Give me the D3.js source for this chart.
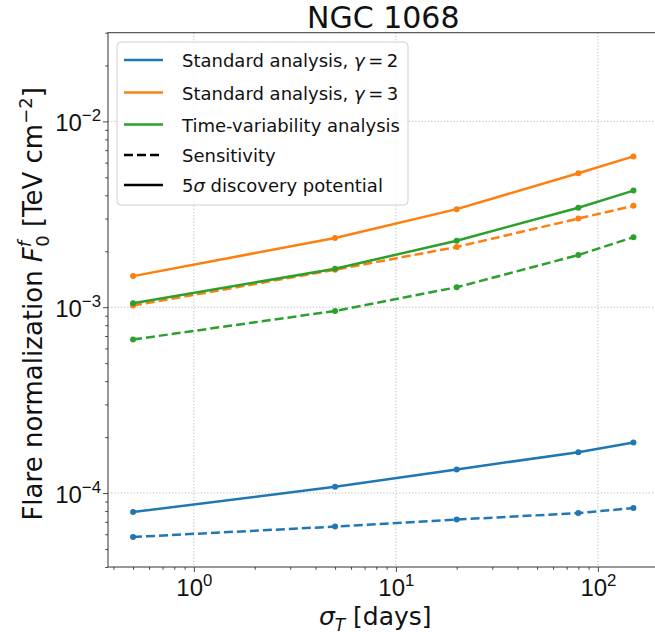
<!DOCTYPE html>
<html>
<head>
<meta charset="utf-8">
<script src="https://cdn.jsdelivr.net/npm/d3@7"></script>
<style>
  html, body { margin: 0; padding: 0; background: #fff; }
  svg { display: block; font-family: "DejaVu Sans", sans-serif; }
</style>
</head>
<body>
<svg id="chart" width="655" height="635"></svg>
<script>
// ---- data ----
const sigmaT = [0.5, 5, 20, 80, 150];
const std2Discovery = [7.9e-5, 1.08e-4, 1.34e-4, 1.66e-4, 1.87e-4];
const std2Sensitivity = [5.8e-5, 6.6e-5, 7.2e-5, 7.8e-5, 8.3e-5];
const std3Discovery = [1.47e-3, 2.36e-3, 3.37e-3, 5.26e-3, 6.48e-3];
const std3Sensitivity = [1.02e-3, 1.59e-3, 2.11e-3, 3.0e-3, 3.51e-3];
const tvDiscovery = [1.05e-3, 1.61e-3, 2.28e-3, 3.43e-3, 4.24e-3];
const tvSensitivity = [6.7e-4, 9.55e-4, 1.28e-3, 1.91e-3, 2.38e-3];
const xMajorTicks = [1, 10, 100];
const xMajorExp = ["0", "1", "2"];
const yMajorTicks = [1e-4, 1e-3, 1e-2];
const yMajorExp = ["−4", "−3", "−2"];
const legendLabels = ["Standard analysis, ", "Standard analysis, ", "Time-variability analysis", "Sensitivity", "5σ discovery potential"];

const colors = { blue: "#1f77b4", orange: "#ff7f0e", green: "#2ca02c" };

const series = [
  { values: std2Sensitivity, color: colors.blue, dashed: true },
  { values: std2Discovery, color: colors.blue, dashed: false },
  { values: std3Sensitivity, color: colors.orange, dashed: true },
  { values: std3Discovery, color: colors.orange, dashed: false },
  { values: tvSensitivity, color: colors.green, dashed: true },
  { values: tvDiscovery, color: colors.green, dashed: false }
];

// ---- layout ----
const svg = d3.select("#chart");
const pLeft = 108, pTop = 32.7, pRight = 658.5, pBottom = 567;

const x = d3.scaleLog().domain([Math.pow(10, -0.425), Math.pow(10, 2.300)]).range([pLeft, pRight]);
const y = d3.scaleLog().domain([4e-5, 3e-2]).range([pBottom, pTop]);

const g = svg.append("g");

// grid
const gridColor = "#b0b0b0";
g.selectAll(".gx").data(xMajorTicks).enter().append("line")
  .attr("x1", d => x(d)).attr("x2", d => x(d))
  .attr("y1", pTop).attr("y2", pBottom)
  .attr("stroke", gridColor).attr("stroke-width", 0.9).attr("stroke-dasharray", "1.2,2");
g.selectAll(".gy").data(yMajorTicks).enter().append("line")
  .attr("x1", pLeft).attr("x2", pRight)
  .attr("y1", d => y(d)).attr("y2", d => y(d))
  .attr("stroke", gridColor).attr("stroke-width", 0.9).attr("stroke-dasharray", "1.2,2");

// axes - minor
const xMinor = x.ticks().filter(v => !xMajorTicks.some(m => Math.abs(m / v - 1) < 1e-6));
const yMinor = y.ticks().filter(v => !yMajorTicks.some(m => Math.abs(m / v - 1) < 1e-6));

const axisColor = "#333";
const xMinorAxis = g.append("g").attr("transform", `translate(0,${pBottom})`)
  .call(d3.axisBottom(x).tickValues(xMinor).tickSize(2.8).tickFormat(""));
const yMinorAxis = g.append("g").attr("transform", `translate(${pLeft},0)`)
  .call(d3.axisLeft(y).tickValues(yMinor).tickSize(2.8).tickFormat(""));

const xAxis = g.append("g").attr("transform", `translate(0,${pBottom})`)
  .call(d3.axisBottom(x).tickValues(xMajorTicks).tickSize(5).tickPadding(6).tickFormat(""));
const yAxis = g.append("g").attr("transform", `translate(${pLeft},0)`)
  .call(d3.axisLeft(y).tickValues(yMajorTicks).tickSize(5).tickPadding(6).tickFormat(""));

[xMinorAxis, yMinorAxis, xAxis, yAxis].forEach(a => {
  a.select(".domain").remove();
  a.selectAll(".tick line").attr("stroke", axisColor).attr("stroke-width", 0.9);
  a.selectAll(".tick text").remove();
});

// tick labels
const tickFont = 24;
xAxis.selectAll(".tick").each(function (d, i) {
  const t = d3.select(this).append("text")
    .attr("y", 29).attr("text-anchor", "middle")
    .attr("fill", "#111").attr("font-size", tickFont);
  t.append("tspan").text("10");
  t.append("tspan").attr("dy", -10).attr("font-size", tickFont * 0.7).text(xMajorExp[i]);
});
yAxis.selectAll(".tick").each(function (d, i) {
  const t = d3.select(this).append("text")
    .attr("x", -7).attr("y", 9).attr("text-anchor", "end")
    .attr("fill", "#111").attr("font-size", tickFont);
  t.append("tspan").text("10");
  t.append("tspan").attr("dy", -10).attr("font-size", tickFont * 0.7).text(yMajorExp[i]);
});

// spines (right spine falls off-canvas)
g.append("rect").attr("x", pLeft).attr("y", pTop)
  .attr("width", pRight - pLeft).attr("height", pBottom - pTop)
  .attr("fill", "none").attr("stroke", axisColor).attr("stroke-width", 1);

// lines
const line = d3.line().x((d, i) => x(sigmaT[i])).y(d => y(d));

const plot = g.append("g");
series.forEach(s => {
  plot.append("path").datum(s.values)
    .attr("d", line)
    .attr("fill", "none")
    .attr("stroke", s.color)
    .attr("stroke-width", 2.5)
    .attr("stroke-dasharray", s.dashed ? "9,4" : null);
  plot.selectAll(null).data(s.values).enter().append("circle")
    .attr("cx", (d, i) => x(sigmaT[i]))
    .attr("cy", d => y(d))
    .attr("r", 3)
    .attr("fill", s.color);
});

// title
svg.append("text").attr("x", (pLeft + pRight) / 2).attr("y", 28)
  .attr("text-anchor", "middle").attr("font-size", 30).attr("fill", "#111")
  .text("NGC 1068");

// x label
const xl = svg.append("text").attr("x", (pLeft + pRight) / 2 - 8).attr("y", 625)
  .attr("text-anchor", "middle").attr("font-size", 25).attr("fill", "#111");
xl.append("tspan").attr("font-style", "italic").text("σ");
xl.append("tspan").attr("font-style", "italic").attr("font-size", 17).attr("dy", 6).text("T");
xl.append("tspan").attr("dy", -6).text(" [days]");

// y label
const yl = svg.append("text")
  .attr("transform", `translate(42,${(pTop + pBottom) / 2 + 4}) rotate(-90)`)
  .attr("text-anchor", "middle").attr("font-size", 26).attr("fill", "#111");
yl.append("tspan").text("Flare normalization ");
yl.append("tspan").attr("font-style", "italic").text("F");
yl.append("tspan").attr("font-style", "italic").attr("font-size", 18).attr("dy", -11).text("f");
yl.append("tspan").attr("font-size", 18).attr("dx", -6).attr("dy", 18).text("0");
yl.append("tspan").attr("dy", -7).text(" [TeV cm");
yl.append("tspan").attr("font-size", 18).attr("dy", -10).text("−2");
yl.append("tspan").attr("dy", 10).text("]");

// legend
const lg = svg.append("g");
lg.append("rect").attr("x", 117).attr("y", 42).attr("width", 291).attr("height", 163)
  .attr("rx", 4).attr("fill", "#fff").attr("fill-opacity", 0.85)
  .attr("stroke", "#d0d0d0").attr("stroke-width", 1);
const legendItems = [
  { color: colors.blue, dashed: false, gamma: "2" },
  { color: colors.orange, dashed: false, gamma: "3" },
  { color: colors.green, dashed: false },
  { color: "#000", dashed: true },
  { color: "#000", dashed: false }
];
const rowY = [60, 92.5, 124.5, 155, 185];
legendItems.forEach((it, i) => {
  lg.append("line").attr("x1", 124).attr("x2", 163)
    .attr("y1", rowY[i]).attr("y2", rowY[i])
    .attr("stroke", it.color).attr("stroke-width", 2.5)
    .attr("stroke-dasharray", it.dashed ? "9,4" : null);
  const t = lg.append("text").attr("x", 182).attr("y", rowY[i] + 7)
    .attr("font-size", 18).attr("fill", "#111");
  if (i === 4) {
    t.append("tspan").text("5");
    t.append("tspan").attr("font-style", "italic").text("σ");
    t.append("tspan").text(" discovery potential");
  } else {
    t.append("tspan").text(legendLabels[i]);
    if (it.gamma) {
      t.append("tspan").attr("font-style", "italic").text("γ");
      t.append("tspan").text("\u2009=\u2009" + it.gamma);
    }
  }
});
</script>
</body>
</html>
